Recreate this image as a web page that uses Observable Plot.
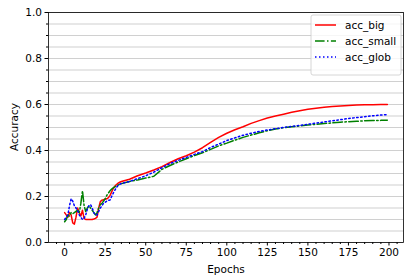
<!DOCTYPE html>
<html><head><meta charset="utf-8">
<script src="https://cdn.jsdelivr.net/npm/d3@7"></script>
<script src="https://cdn.jsdelivr.net/npm/@observablehq/plot@0.6"></script>
<style>
html,body{margin:0;padding:0;background:#fff;}
</style></head><body><div id="chart"></div>
<script>
const epochs = [0,1,2,3,4,5,6,7,8,9,10,11,12,13,14,15,16,17,18,19,20,21,22,23,24,25,26,27,28,29,30,31,32,33,34,35,
  40,45,50,55,60,65,70,75,80,85,90,95,100,105,110,115,120,125,130,135,140,145,150,155,160,165,170,175,180,185,190,195,199];
const accBig = [0.13,0.12,0.11,0.13,0.12,0.085,0.08,0.11,0.15,0.13,0.115,0.14,0.105,0.10,0.10,0.10,0.10,0.10,0.102,0.105,0.11,0.15,0.178,0.184,0.186,0.188,0.19,0.195,0.205,0.22,0.235,0.245,0.252,0.258,0.262,0.265,
  0.275,0.29,0.302,0.315,0.33,0.348,0.364,0.377,0.393,0.412,0.435,0.457,0.475,0.49,0.503,0.518,0.53,0.541,0.55,0.558,0.566,0.573,0.579,0.584,0.588,0.591,0.594,0.596,0.598,0.599,0.599,0.6,0.6];
const accSmall = [0.09,0.10,0.12,0.115,0.13,0.125,0.13,0.135,0.14,0.13,0.17,0.225,0.16,0.135,0.15,0.16,0.15,0.14,0.13,0.12,0.13,0.15,0.165,0.17,0.18,0.19,0.205,0.215,0.225,0.232,0.238,0.242,0.247,0.25,0.253,0.256,
  0.265,0.272,0.28,0.288,0.318,0.335,0.35,0.364,0.378,0.39,0.405,0.42,0.432,0.445,0.457,0.467,0.477,0.486,0.493,0.499,0.503,0.507,0.511,0.514,0.517,0.52,0.523,0.525,0.527,0.529,0.53,0.531,0.532];
const accGlob = [0.10,0.11,0.12,0.16,0.19,0.18,0.16,0.15,0.14,0.12,0.11,0.10,0.105,0.12,0.145,0.16,0.165,0.15,0.13,0.12,0.12,0.135,0.15,0.16,0.17,0.175,0.18,0.183,0.185,0.2,0.215,0.228,0.24,0.248,0.253,0.257,
  0.265,0.278,0.29,0.306,0.325,0.343,0.357,0.37,0.383,0.395,0.413,0.428,0.443,0.455,0.466,0.475,0.483,0.489,0.495,0.5,0.505,0.509,0.514,0.519,0.524,0.529,0.534,0.539,0.543,0.547,0.551,0.554,0.556];
const seriesNames = ["acc_big","acc_small","acc_glob"];
const xTicks = [0,25,50,75,100,125,150,175,200];
const xMinorTicks = [-5,5,10,15,20,30,35,40,45,55,60,65,70,80,85,90,95,105,110,115,120,130,135,140,145,155,160,165,170,180,185,190,195,205];
const yTicks = [0,0.2,0.4,0.6,0.8,1.0];
const yGrid = [0,0.05,0.1,0.15,0.2,0.25,0.3,0.35,0.4,0.45,0.5,0.55,0.6,0.65,0.7,0.75,0.8,0.85,0.9,0.95,1.0];
const xLabel = "Epochs";
const yLabel = "Accuracy";

const seriesValues = [accBig, accSmall, accGlob];
const colors = ["#ff0000", "#008000", "#0000ff"];
const dashes = [null, "9.6,2.4,1.5,2.4", "1.5,2.5"];

const tables = seriesValues.map(vals => epochs.map((e, i) => ({epoch: e, value: vals[i]})));

const chart = Plot.plot({
  width: 404, height: 280,
  marginLeft: 48, marginRight: 1, marginTop: 12, marginBottom: 38,
  x: {domain: [-9.95, 208.95]},
  y: {domain: [0, 1]},
  style: {fontFamily: "DejaVu Sans", fontSize: "10.5px", color: "black", background: "white"},
  marks: [
    Plot.ruleY(yGrid, {stroke: "#b0b0b0", strokeWidth: 0.8, strokeOpacity: 0.75}),
    ...tables.map((t, k) => Plot.line(t, {
      x: "epoch", y: "value", stroke: colors[k], strokeWidth: 1.5,
      strokeDasharray: dashes[k], strokeLinejoin: "round"
    })),
    Plot.frame({stroke: "black", strokeWidth: 0.8}),
    Plot.axisX({ticks: xTicks, tickSize: 3.5, tickPadding: 3, tickFormat: d => String(d), label: null, fill: "black"}),
    Plot.axisX({ticks: xMinorTicks, tickSize: 2, tickFormat: () => "", label: null}),
    Plot.axisY({ticks: yTicks, tickSize: 3.5, tickPadding: 3, tickFormat: d => d.toFixed(1), label: null, fill: "black"}),
    Plot.axisY({ticks: yGrid, tickSize: 2, tickFormat: () => "", label: null})
  ]
});
document.getElementById("chart").appendChild(chart);

const svg = d3.select(chart);
svg.append("text").attr("x", 226).attr("y", 273).attr("text-anchor", "middle")
  .attr("font-size", 10.5).attr("fill", "black").text(xLabel);
svg.append("text").attr("transform", "translate(18,127) rotate(-90)").attr("text-anchor", "middle")
  .attr("font-size", 10.5).attr("fill", "black").text(yLabel);

const lg = svg.append("g");
lg.append("rect").attr("x", 311).attr("y", 15).attr("width", 90).attr("height", 60).attr("rx", 2)
  .attr("fill", "white").attr("fill-opacity", 0.8).attr("stroke", "#cccccc").attr("stroke-width", 0.8);
seriesNames.forEach((name, k) => {
  const yy = 25 + k * 16;
  lg.append("line").attr("x1", 315).attr("x2", 336).attr("y1", yy).attr("y2", yy)
    .attr("stroke", colors[k]).attr("stroke-width", 1.5)
    .attr("stroke-dasharray", dashes[k]);
  lg.append("text").attr("x", 345).attr("y", yy).attr("dy", "0.35em").attr("text-anchor", "start")
    .attr("font-size", 10.5).attr("fill", "black").text(name);
});
</script></body></html>
